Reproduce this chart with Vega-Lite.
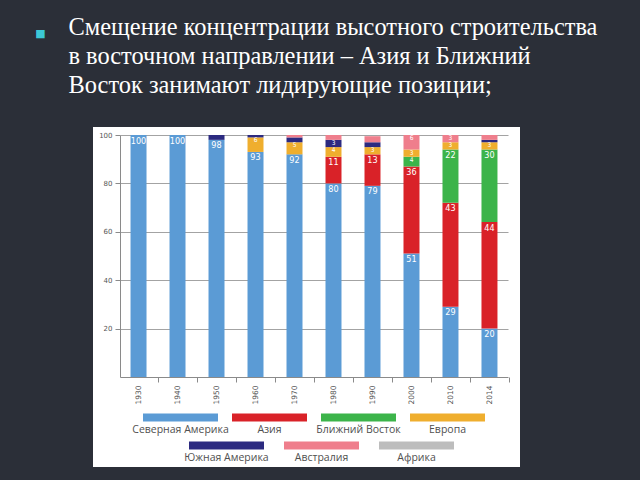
{
  "$schema": "https://vega.github.io/schema/vega-lite/v6.json",
  "width": 427,
  "height": 340,
  "autosize": {"type": "none"},
  "padding": {"left": 93, "top": 127, "right": 120, "bottom": 13},
  "background": "#2b2f38",
  "config": {"view": {"fill": "white", "stroke": null}},
  "data": {
    "values": [
      {"year": "1930", "region": "Северная Америка", "rank": 1, "share": 100},
      {"year": "1940", "region": "Северная Америка", "rank": 1, "share": 100},
      {"year": "1950", "region": "Северная Америка", "rank": 1, "share": 98},
      {"year": "1950", "region": "Южная Америка", "rank": 5, "share": 2},
      {"year": "1960", "region": "Северная Америка", "rank": 1, "share": 93},
      {"year": "1960", "region": "Европа", "rank": 4, "share": 6},
      {"year": "1960", "region": "Южная Америка", "rank": 5, "share": 1},
      {"year": "1970", "region": "Северная Америка", "rank": 1, "share": 92},
      {"year": "1970", "region": "Европа", "rank": 4, "share": 5},
      {"year": "1970", "region": "Южная Америка", "rank": 5, "share": 2},
      {"year": "1970", "region": "Австралия", "rank": 6, "share": 1},
      {"year": "1980", "region": "Северная Америка", "rank": 1, "share": 80},
      {"year": "1980", "region": "Азия", "rank": 2, "share": 11},
      {"year": "1980", "region": "Европа", "rank": 4, "share": 4},
      {"year": "1980", "region": "Южная Америка", "rank": 5, "share": 3},
      {"year": "1980", "region": "Австралия", "rank": 6, "share": 2},
      {"year": "1990", "region": "Северная Америка", "rank": 1, "share": 79},
      {"year": "1990", "region": "Азия", "rank": 2, "share": 13},
      {"year": "1990", "region": "Европа", "rank": 4, "share": 3},
      {"year": "1990", "region": "Южная Америка", "rank": 5, "share": 2},
      {"year": "1990", "region": "Австралия", "rank": 6, "share": 2.5},
      {"year": "2000", "region": "Северная Америка", "rank": 1, "share": 51},
      {"year": "2000", "region": "Азия", "rank": 2, "share": 36},
      {"year": "2000", "region": "Ближний Восток", "rank": 3, "share": 4},
      {"year": "2000", "region": "Европа", "rank": 4, "share": 3},
      {"year": "2000", "region": "Австралия", "rank": 6, "share": 6},
      {"year": "2010", "region": "Северная Америка", "rank": 1, "share": 29},
      {"year": "2010", "region": "Азия", "rank": 2, "share": 43},
      {"year": "2010", "region": "Ближний Восток", "rank": 3, "share": 22},
      {"year": "2010", "region": "Европа", "rank": 4, "share": 3},
      {"year": "2010", "region": "Австралия", "rank": 6, "share": 3},
      {"year": "2014", "region": "Северная Америка", "rank": 1, "share": 20},
      {"year": "2014", "region": "Азия", "rank": 2, "share": 44},
      {"year": "2014", "region": "Ближний Восток", "rank": 3, "share": 30},
      {"year": "2014", "region": "Европа", "rank": 4, "share": 3},
      {"year": "2014", "region": "Южная Америка", "rank": 5, "share": 1},
      {"year": "2014", "region": "Австралия", "rank": 6, "share": 2}
    ]
  },
  "encoding": {
    "x": {
      "field": "year",
      "type": "ordinal",
      "scale": {"range": [27, 415], "paddingInner": 0.59, "paddingOuter": 0.27},
      "axis": {
        "title": "■",
        "titleX": -53,
        "titleY": -343.5,
        "titleAngle": 0,
        "titleAlign": "center",
        "titleBaseline": "middle",
        "titleFont": "DejaVu Sans",
        "titleFontSize": 11,
        "titleFontWeight": "normal",
        "titleColor": "#3cc9d6",
        "orient": "bottom",
        "offset": -90,
        "labelAngle": 270,
        "labelFont": "DejaVu Sans",
        "labelFontSize": 7.5,
        "labelColor": "#555555",
        "labelPadding": 3,
        "tickSize": 5,
        "tickColor": "#8a8a8a",
        "domainColor": "#8a8a8a",
        "tickOffset": 19.5,
        "labelOffset": -19.5,
        "grid": false
      }
    },
    "y": {
      "field": "share",
      "type": "quantitative",
      "stack": "zero",
      "scale": {"domain": [0, 100], "range": [250, 8], "nice": false, "zero": true},
      "axis": {
        "title": [
          "Смещение концентрации высотного строительства",
          "в восточном направлении – Азия и Ближний",
          "Восток занимают лидирующие позиции;"
        ],
        "titleX": -52,
        "titleY": -93,
        "titleAngle": 0,
        "titleAlign": "left",
        "titleBaseline": "alphabetic",
        "titleFont": "Liberation Serif",
        "titleFontSize": 24.4,
        "titleFontWeight": "normal",
        "titleColor": "#ffffff",
        "titleLineHeight": 29,
        "titleLimit": 1000,
        "orient": "left",
        "offset": -27,
        "values": [20, 40, 60, 80, 100],
        "labelFont": "DejaVu Sans",
        "labelFontSize": 7,
        "labelColor": "#555555",
        "labelPadding": 3,
        "tickSize": 5,
        "tickColor": "#8a8a8a",
        "domainColor": "#8a8a8a",
        "grid": true,
        "gridColor": "#a3a3a3",
        "gridWidth": 1
      }
    },
    "order": {"field": "rank", "type": "quantitative", "sort": "ascending"}
  },
  "layer": [
    {
      "mark": {"type": "bar", "strokeWidth": 0},
      "encoding": {
        "fill": {
          "field": "region",
          "type": "nominal",
          "scale": {
            "domain": ["Северная Америка", "Азия", "Ближний Восток", "Европа", "Южная Америка", "Австралия", "Африка"],
            "range": ["#5b9bd5", "#d92228", "#3cb44a", "#efae2e", "#2c2a80", "#ef7e8c", "#bdbdbd"]
          },
          "legend": {
            "orient": "none",
            "legendX": 50,
            "legendY": 265,
            "direction": "horizontal",
            "columns": 4,
            "gridAlign": "all",
            "values": ["Северная Америка", "Азия", "Ближний Восток", "Европа"],
            "title": null,
            "padding": 0,
            "symbolType": "M-1,-0.427H1V-0.213H-1Z",
            "symbolSize": 5625,
            "symbolStrokeWidth": 0,
            "labelAlign": "center",
            "labelOffset": -37.5,
            "labelFont": "Open Sans",
            "labelFontSize": 10.5,
            "labelColor": "#505050",
            "labelLimit": 200,
            "columnPadding": -2
          }
        },
        "stroke": {
          "field": "region",
          "type": "nominal",
          "scale": {
            "domain": ["Южная Америка", "Австралия", "Африка"],
            "range": ["#2c2a80", "#ef7e8c", "#bdbdbd"]
          },
          "legend": {
            "orient": "none",
            "legendX": 92,
            "legendY": 289,
            "direction": "horizontal",
            "columns": 3,
            "gridAlign": "all",
            "title": null,
            "padding": 0,
            "symbolType": "M-1,-0.32H1",
            "symbolSize": 5625,
            "symbolFillColor": "transparent",
            "symbolStrokeWidth": 8,
            "labelAlign": "center",
            "labelOffset": -41.5,
            "labelFont": "Open Sans",
            "labelFontSize": 10.5,
            "labelColor": "#505050",
            "labelLimit": 200,
            "columnPadding": -22.5
          }
        }
      }
    },
    {
      "mark": {
        "type": "text",
        "baseline": "top",
        "dy": 1.5,
        "color": "#ffffff",
        "font": "DejaVu Sans Condensed",
        "fontSize": 9
      },
      "encoding": {
        "detail": {"field": "region", "type": "nominal"},
        "text": {"field": "share", "type": "quantitative", "format": "d"},
        "opacity": {"condition": {"test": "datum.share < 8", "value": 0}, "value": 1}
      }
    },
    {
      "mark": {
        "type": "text",
        "baseline": "top",
        "dy": 0,
        "color": "#ffffff",
        "font": "DejaVu Sans Condensed",
        "fontSize": 6.5
      },
      "encoding": {
        "detail": {"field": "region", "type": "nominal"},
        "text": {"field": "share", "type": "quantitative", "format": "d"},
        "opacity": {"condition": {"test": "datum.share < 3 || datum.share >= 8", "value": 0}, "value": 1}
      }
    }
  ]
}
